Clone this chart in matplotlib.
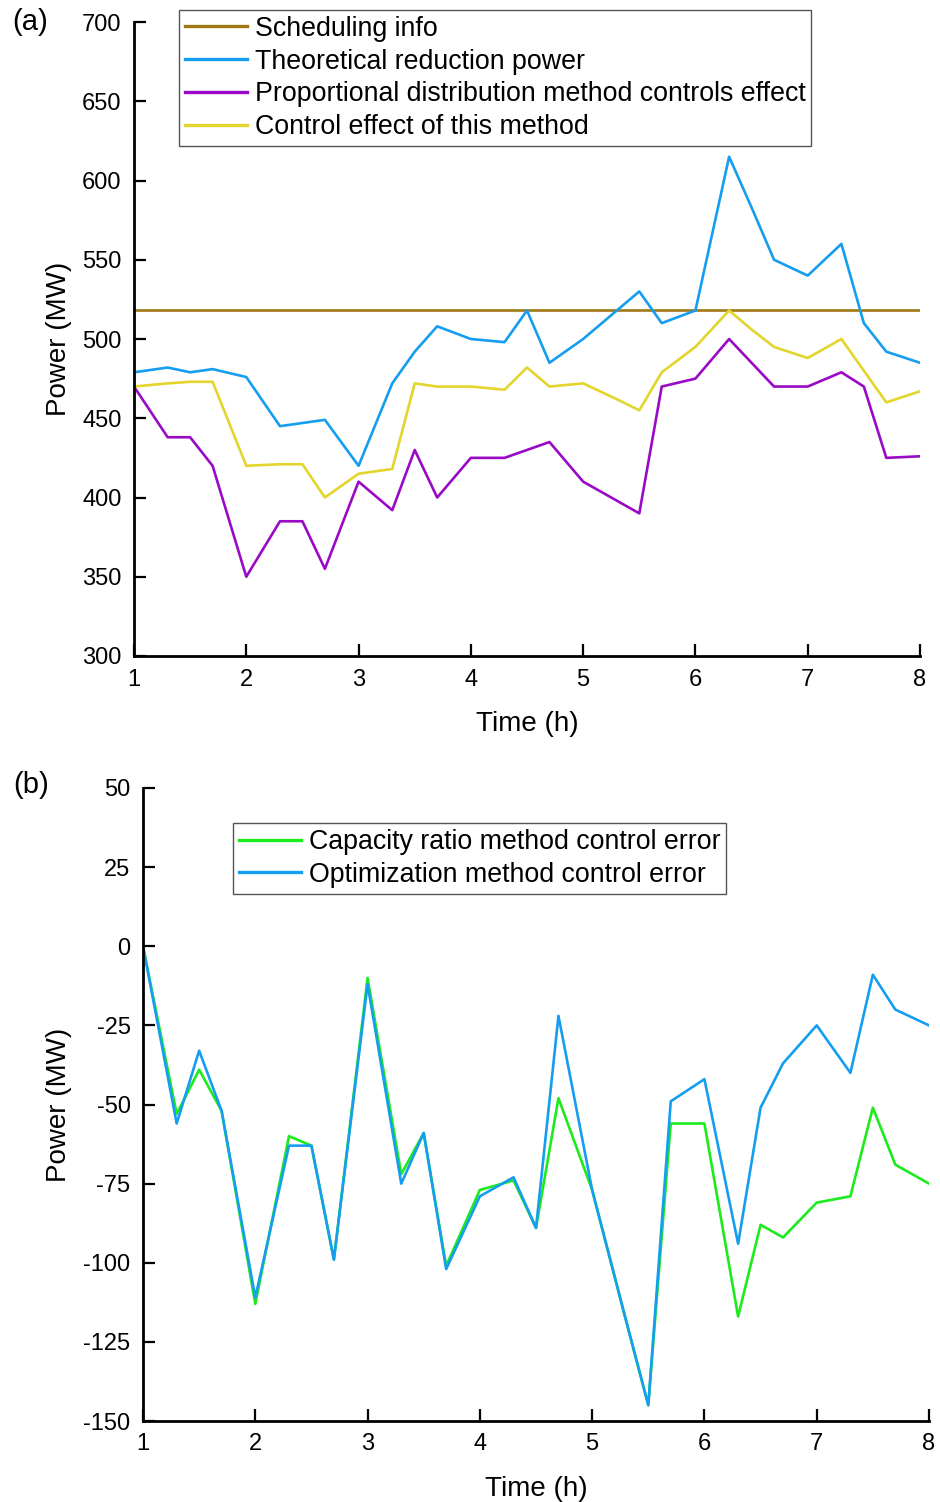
import matplotlib
matplotlib.use("Agg")
import matplotlib.pyplot as plt

plt.rcParams['font.family'] = ['Liberation Sans', 'DejaVu Sans']
plt.rcParams['axes.unicode_minus'] = False

# ---------------- data ----------------
time_h = [1.0, 1.3, 1.5, 1.7, 2.0, 2.3, 2.5, 2.7, 3.0, 3.3, 3.5, 3.7,
          4.0, 4.3, 4.5, 4.7, 5.0, 5.3, 5.5, 5.7, 6.0, 6.3, 6.5, 6.7,
          7.0, 7.3, 7.5, 7.7, 8.0]

scheduling_info = [518] * len(time_h)
theoretical_reduction = [479, 482, 479, 481, 476, 445, 447, 449, 420, 472, 492, 508,
                         500, 498, 518, 485, 500, 518, 530, 510, 518, 615, 583, 550,
                         540, 560, 510, 492, 485]
proportional_effect = [470, 438, 438, 420, 350, 385, 385, 355, 410, 392, 430, 400,
                       425, 425, 430, 435, 410, 398, 390, 470, 475, 500, 485, 470,
                       470, 479, 470, 425, 426]
this_method_effect = [470, 472, 473, 473, 420, 421, 421, 400, 415, 418, 472, 470,
                      470, 468, 482, 470, 472, 462, 455, 479, 495, 518, 506, 495,
                      488, 500, 480, 460, 467]

capacity_ratio_error = [0, -53, -39, -52, -113, -60, -63, -99, -10, -72, -59, -101,
                        -77, -74, -89, -48, -77, -118, -145, -56, -56, -117, -88, -92,
                        -81, -79, -51, -69, -75]
optimization_error = [0, -56, -33, -52, -111, -63, -63, -99, -12, -75, -59, -102,
                      -79, -73, -89, -22, -77, -118, -145, -49, -42, -94, -51, -37,
                      -25, -40, -9, -20, -25]

labels_a = ["Scheduling info", "Theoretical reduction power",
            "Proportional distribution method controls effect",
            "Control effect of this method"]
labels_b = ["Capacity ratio method control error", "Optimization method control error"]

x_ticks = [1, 2, 3, 4, 5, 6, 7, 8]
y_ticks_a = [300, 350, 400, 450, 500, 550, 600, 650, 700]
y_ticks_b = [-150, -125, -100, -75, -50, -25, 0, 25, 50]

# ---------------- styling ----------------
C_SCHED = "#A07816"
C_BLUE = "#159DF0"
C_PURPLE = "#9A0AC6"
C_YELLOW = "#E3D52C"
C_GREEN = "#1CEB1C"
LW = 1.9
TICK_FS = 17
LABEL_FS = 20
LEG_FS = 19.3

W, H = 940, 1502
fig = plt.figure(figsize=(W / 100, H / 100), dpi=100)

ax1 = fig.add_axes([134 / W, 1 - 656 / H, 786 / W, 634 / H])
ax2 = fig.add_axes([143 / W, 1 - 1421 / H, 786 / W, 633 / H])


def style(ax):
    for s in ["top", "right"]:
        ax.spines[s].set_visible(False)
    for s in ["left", "bottom"]:
        ax.spines[s].set_linewidth(2.0)
        ax.spines[s].set_color("black")
    ax.tick_params(direction="in", length=8.5, width=1.6, labelsize=TICK_FS,
                   pad=9, colors="black")
    ax.set_xticks(x_ticks)
    ax.set_xlim(1, 8)


def style_legend(leg):
    leg.get_frame().set_edgecolor("#555555")
    leg.get_frame().set_linewidth(1.0)
    for l in leg.get_lines():
        l.set_linewidth(2.4)


leg_kw = dict(borderaxespad=0, fontsize=LEG_FS, handlelength=2.3, handletextpad=0.3,
              labelspacing=0.25, borderpad=0.22, fancybox=False, framealpha=1)

# ---- (a) ----
ax1.plot(time_h, scheduling_info, color=C_SCHED, lw=LW, label=labels_a[0])
ax1.plot(time_h, theoretical_reduction, color=C_BLUE, lw=LW, label=labels_a[1])
ax1.plot(time_h, proportional_effect, color=C_PURPLE, lw=LW, label=labels_a[2])
ax1.plot(time_h, this_method_effect, color=C_YELLOW, lw=LW, label=labels_a[3])
style(ax1)
ax1.set_ylim(300, 700)
ax1.set_yticks(y_ticks_a)
ax1.set_xlabel("Time (h)", fontsize=LABEL_FS)
ax1.set_ylabel("Power (MW)", fontsize=LABEL_FS)
ax1.xaxis.set_label_coords(0.5, -0.086)
ax1.yaxis.set_label_coords(-0.079, 0.5)
leg1 = ax1.legend(loc="upper left", bbox_to_anchor=(0.0573, 1.019), **leg_kw)
style_legend(leg1)

# ---- (b) ----
ax2.plot(time_h, capacity_ratio_error, color=C_GREEN, lw=LW, label=labels_b[0])
ax2.plot(time_h, optimization_error, color=C_BLUE, lw=LW, label=labels_b[1])
style(ax2)
ax2.set_ylim(-150, 50)
ax2.set_yticks(y_ticks_b)
ax2.set_xlabel("Time (h)", fontsize=LABEL_FS)
ax2.set_ylabel("Power (MW)", fontsize=LABEL_FS)
ax2.xaxis.set_label_coords(0.5, -0.087)
ax2.yaxis.set_label_coords(-0.090, 0.5)
leg2 = ax2.legend(loc="upper left", bbox_to_anchor=(0.1145, 0.9447), **leg_kw)
style_legend(leg2)

fig.text(12 / W, 1 - 22 / H, "(a)", fontsize=21, va="center", ha="left")
fig.text(13 / W, 1 - 785 / H, "(b)", fontsize=21, va="center", ha="left")

fig.savefig("out.png", dpi=100)
